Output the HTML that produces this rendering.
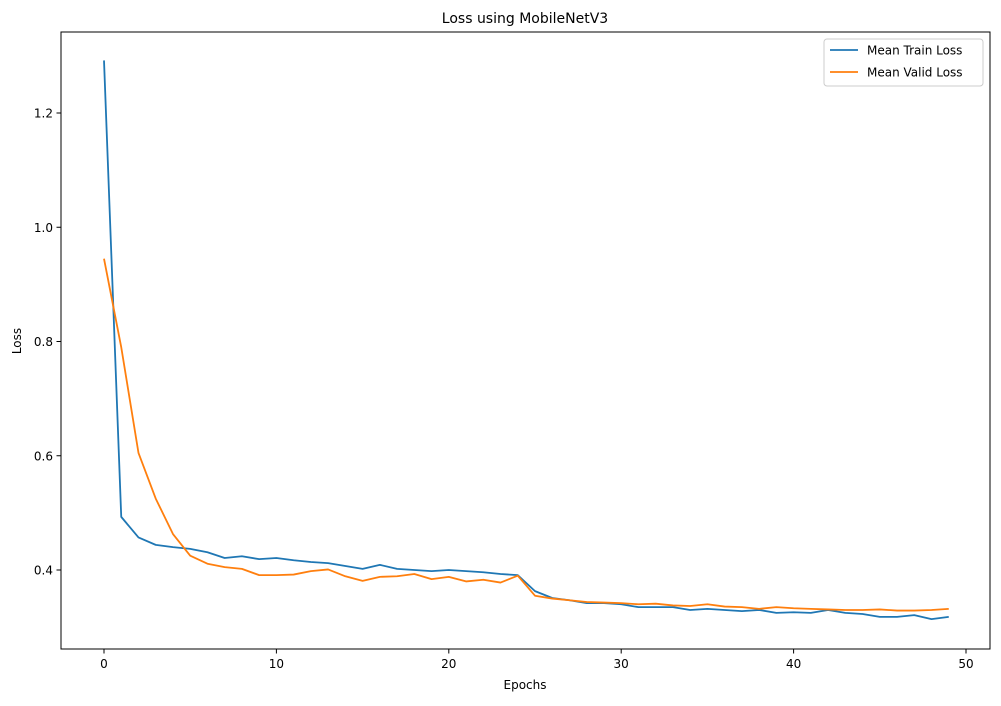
<!DOCTYPE html>
<html><head><meta charset="utf-8"><style>
body{margin:0;background:#fff;font-family:"Liberation Sans","DejaVu Sans",sans-serif}
</style></head><body>
<svg id="chart" width="1001" height="701" xmlns="http://www.w3.org/2000/svg" font-family="DejaVu Sans, Liberation Sans, sans-serif">
<rect width="1001" height="701" fill="#fff"/>
<text x="525" y="23" font-size="14" text-anchor="middle">Loss using MobileNetV3</text>
<text x="525" y="689" font-size="12" text-anchor="middle">Epochs</text>
<text x="21" y="341" font-size="12" text-anchor="middle" transform="rotate(-90 21 341)">Loss</text>
<g id="axes"></g>
<g id="series"></g>
<rect x="61" y="32" width="929" height="617" fill="none" stroke="#000" stroke-width="1"/>
<g>
<rect x="824" y="39" width="159" height="47" rx="3" fill="#fff" stroke="#ccc"/>
<line x1="830" y1="50" x2="858" y2="50" stroke="#1f77b4" stroke-width="1.8"/>
<text x="867" y="54.5" font-size="12">Mean Train Loss</text>
<line x1="830" y1="72" x2="858" y2="72" stroke="#ff7f0e" stroke-width="1.8"/>
<text x="867" y="76.5" font-size="12">Mean Valid Loss</text>
</g>
</svg>
<script>
const epochs=[...Array(50).keys()];
const trainLoss=[1.292,0.493,0.457,0.444,0.440,0.437,0.431,0.421,0.424,0.419,0.421,0.417,0.414,0.412,0.407,0.402,0.409,0.402,0.400,0.398,0.400,0.398,0.396,0.393,0.391,0.363,0.351,0.347,0.342,0.342,0.340,0.335,0.335,0.335,0.330,0.332,0.330,0.328,0.330,0.325,0.326,0.325,0.330,0.325,0.323,0.318,0.318,0.321,0.314,0.318];
const validLoss=[0.945,0.79,0.605,0.525,0.463,0.425,0.411,0.405,0.402,0.391,0.391,0.392,0.398,0.401,0.389,0.381,0.388,0.389,0.393,0.384,0.388,0.380,0.383,0.378,0.390,0.355,0.350,0.347,0.344,0.343,0.342,0.340,0.341,0.338,0.337,0.340,0.336,0.335,0.332,0.335,0.333,0.332,0.331,0.330,0.330,0.331,0.329,0.329,0.330,0.332];
const xTicks=[0,10,20,30,40,50];
const yTicks=[0.4,0.6,0.8,1.0,1.2];
const yTickLabels=["0.4","0.6","0.8","1.0","1.2"];
const NS="http://www.w3.org/2000/svg";
function xs(v){return 104+v*17.24;}
function ys(v){return 113+(1.2-v)*571.25;}
const axes=document.getElementById('axes');
xTicks.forEach(t=>{
 const l=document.createElementNS(NS,'line');
 l.setAttribute('x1',xs(t));l.setAttribute('x2',xs(t));l.setAttribute('y1',649);l.setAttribute('y2',653.5);l.setAttribute('stroke','#000');
 
 
 axes.appendChild(l);
 const tx=document.createElementNS(NS,'text');
 tx.setAttribute('x',xs(t));tx.setAttribute('y',668);tx.setAttribute('font-size','12');tx.setAttribute('text-anchor','middle');
 tx.textContent=t;
 
 
 axes.appendChild(tx);
});
yTicks.forEach((t,i)=>{
 const l=document.createElementNS(NS,'line');
 l.setAttribute('x1',56.5);l.setAttribute('x2',61);l.setAttribute('y1',ys(t));l.setAttribute('y2',ys(t));l.setAttribute('stroke','#000');
 
 
 axes.appendChild(l);
 const tx=document.createElementNS(NS,'text');
 tx.setAttribute('x',53);tx.setAttribute('y',ys(t)+4.5);tx.setAttribute('font-size','12');tx.setAttribute('text-anchor','end');
 tx.textContent=yTickLabels[i];
 
 
 axes.appendChild(tx);
});
const series=document.getElementById('series');
[[trainLoss,'#1f77b4','train-loss-line'],[validLoss,'#ff7f0e','valid-loss-line']].forEach(([d,c,n])=>{
 const p=document.createElementNS(NS,'polyline');
 p.setAttribute('points',d.map((v,i)=>xs(epochs[i])+','+ys(v)).join(' '));
 p.setAttribute('fill','none');p.setAttribute('stroke',c);p.setAttribute('stroke-width','1.8');p.setAttribute('stroke-linejoin','round');
 
 
 series.appendChild(p);
});
</script>
</body></html>
